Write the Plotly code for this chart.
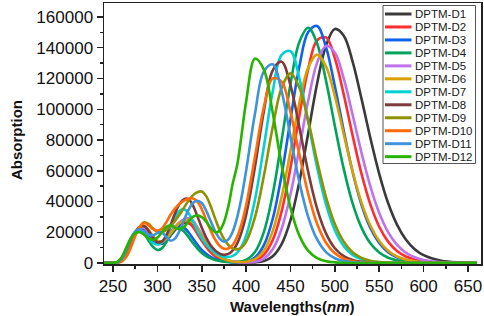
import plotly.graph_objects as go

# Wavelength grid (nm)
wavelengths = list(range(240, 401, 5)) + list(range(410, 601, 10)) + [620, 640, 660]

series_names = ["DPTM-D1", "DPTM-D2", "DPTM-D3", "DPTM-D4", "DPTM-D5", "DPTM-D6",
                "DPTM-D7", "DPTM-D8", "DPTM-D9", "DPTM-D10", "DPTM-D11", "DPTM-D12"]

colors = ["#3a3a3a", "#ff2d2d", "#0f62ee", "#00a35c", "#bf72ec", "#d9a000",
          "#00d2d2", "#7e3b3b", "#8e9200", "#ff6a0a", "#3f93dc", "#27b300"]

d1 = [0, 0,
      0, 300, 2000, 6500, 13000, 19000, 22500, 23000, 20000, 16000,
      13000, 12500, 14500, 18000, 21500, 24500, 26000, 26000, 24000, 20000,
      15500, 11500, 8000, 5500, 3600, 2300, 1400, 900, 600, 400,
      300,
      400, 1300, 4400, 12300, 27900, 52900, 84600, 116800, 141300, 152200,
      147800, 131000, 106900, 81300, 58000, 39000, 25000, 15300, 9000, 5100,
      1500, 400, 100]
d2 = [0, 0,
      0, 400, 2500, 7500, 14000, 20000, 23500, 23000, 19500, 15500,
      13000, 13000, 15500, 19500, 23000, 26000, 27000, 26500, 23500, 19000,
      14500, 10500, 7000, 4500, 2800, 1700, 1000, 600, 350, 250,
      380,
      1500, 5300, 14900, 33600, 62100, 96000, 126400, 144900, 146700, 133100,
      109600, 82900, 58100, 38100, 23600, 13900, 7800, 4200, 2200, 1100,
      260, 100, 0]
d3 = [0, 0,
      0, 500, 3000, 8500, 15000, 20000, 22000, 21000, 18000, 14500,
      12500, 13000, 16000, 20000, 23500, 24500, 23000, 20000, 16000, 12000,
      8500, 6000, 4000, 2600, 1600, 1000, 600, 400, 340, 460,
      900,
      3600, 11600, 28800, 57300, 93400, 127900, 150200, 154100, 140400, 115000,
      86000, 59200, 37900, 22800, 13000, 7000, 3700, 1800, 900, 400,
      100, 0, 0]
d4 = [0, 0,
      0, 700, 3500, 9500, 16000, 20000, 21000, 19000, 14500, 10500,
      8500, 9500, 13500, 18500, 22000, 22500, 20500, 17000, 13000, 9500,
      6500, 4500, 3000, 2000, 1300, 900, 650, 530, 670, 1070,
      2000,
      7200, 20300, 44900, 79700, 116500, 143800, 153000, 142700, 118600, 89100,
      61200, 38800, 23000, 12800, 6800, 3400, 1700, 800, 350, 150,
      0, 0, 0]
d5 = [0, 0,
      0, 300, 2000, 6500, 13000, 19000, 22500, 23000, 20000, 16000,
      13500, 13500, 16000, 19500, 23500, 26500, 28500, 29000, 27500, 23500,
      18500, 13500, 9500, 6500, 4200, 2700, 1700, 1000, 600, 350,
      330,
      800, 2900, 9000, 22300, 44700, 74600, 105800, 130300, 141200, 136800,
      120000, 96400, 71700, 49800, 32500, 20100, 11900, 6700, 3700, 1950,
      500, 120, 0]
d6 = [0, 0,
      0, 200, 1500, 5500, 12000, 18500, 23000, 24000, 21500, 17500,
      14500, 14000, 16000, 19500, 23000, 26000, 27500, 28000, 26500, 22500,
      17500, 13000, 9000, 6000, 4000, 2500, 1600, 1000, 680, 620,
      770,
      2500, 7900, 20900, 43000, 73000, 104200, 127200, 135500, 127900, 108500,
      83800, 59500, 39300, 24400, 14300, 7900, 4200, 2200, 1100, 520,
      100, 0, 0]
d7 = [0, 0,
      0, 500, 3000, 8500, 15000, 19500, 21000, 19500, 16000, 13000,
      12000, 13500, 17500, 23500, 29500, 34000, 35000, 32500, 27000, 21000,
      16000, 12000, 9000, 6500, 5000, 4000, 3900, 4650, 6800, 11000,
      17800,
      41300, 75800, 111700, 135400, 137700, 120100, 91700, 62100, 38100, 21300,
      11000, 5300, 2400, 1060, 440, 170, 60, 0, 0, 0,
      0, 0, 0]
d8 = [0, 0,
      0, 300, 2000, 6500, 13000, 19500, 23500, 24000, 21000, 16500,
      13500, 14000, 18000, 25000, 32500, 38500, 41500, 41500, 37500, 30500,
      23000, 16500, 11500, 8200, 6100, 5300, 5900, 8200, 12800, 20400,
      31300,
      62800, 98900, 125300, 130900, 115500, 88100, 59100, 35400, 19300, 9600,
      4500, 1950, 800, 310, 100, 0, 0, 0, 0, 0,
      0, 0, 0]
d9 = [0, 0,
      0, 200, 1500, 5000, 11000, 18000, 23500, 26500, 25500, 22500,
      20500, 20000, 21500, 24000, 27500, 31500, 36000, 40500, 44000, 46000,
      46500, 43500, 37000, 29000, 21500, 15700, 11600, 9350, 8900, 10200,
      13900,
      29800, 56700, 88500, 114000, 123300, 114100, 92400, 66300, 42900, 25300,
      13800, 7000, 3300, 1500, 670, 280, 100, 0, 0, 0,
      0, 0, 0]
d10 = [0, 0,
       0, 100, 1000, 4000, 10000, 17500, 23500, 26000, 24500, 22000,
       21000, 22500, 26500, 31500, 35500, 38500, 40500, 41800, 42000, 40000,
       35000, 28000, 21100, 15300, 11250, 9300, 9400, 11900, 17300, 25800,
       37600,
       69200, 101500, 120100, 117900, 98000, 70600, 44800, 25500, 13200, 6300,
       2800, 1160, 460, 170, 0, 0, 0, 0, 0, 0,
       0, 0, 0]
d11 = [0, 0,
       0, 500, 3000, 8500, 15500, 20500, 22000, 20500, 18500, 18000,
       19500, 20000, 17000, 14500, 16000, 21000, 28000, 34500, 39000, 40500,
       39000, 34000, 27300, 20800, 16000, 13900, 15400, 20600, 30000, 43300,
       60100,
       97300, 124600, 129200, 111600, 82200, 52600, 29900, 15300, 7100, 3100,
       1250, 470, 170, 0, 0, 0, 0, 0, 0, 0,
       0, 0, 0]
d12 = [0, 0,
       0, 800, 4000, 10000, 16000, 19500, 20000, 18500, 16000, 15000,
       16500, 20000, 23500, 24500, 23000, 22000, 23500, 27000, 30000, 31100,
       29800, 26950, 22900, 20000, 21000, 26500, 37000, 52000, 64000, 84000,
       105000,
       133000, 125800, 97600, 63800, 35900, 17800, 7900, 3200, 1200, 410,
       140, 0, 0, 0, 0, 0, 0, 0, 0, 0,
       0, 0, 0]

series_values = [d1, d2, d3, d4, d5, d6, d7, d8, d9, d10, d11, d12]

FONT = "Liberation Sans, Arial, sans-serif"

fig = go.Figure()
for name, col, vals in zip(series_names, colors, series_values):
    fig.add_trace(go.Scatter(
        x=wavelengths, y=vals, mode="lines", name=name,
        line=dict(color=col, width=2.6, shape="spline", smoothing=1.0),
        showlegend=False, hoverinfo="skip",
    ))

# Plot area in pixels: x 104..481, y 3..264
L, R, T, B = 104, 481, 3, 264
PW, PH = R - L, B - T

def px(xp):
    return (xp - L) / PW

def py(yp):
    return (B - yp) / PH

shapes = [dict(type="rect", xref="paper", yref="paper",
               x0=px(383), x1=px(475.5), y0=py(163.5), y1=py(5.5),
               line=dict(color="#555555", width=1), fillcolor="white", layer="above")]
annotations = []
for i, (name, col) in enumerate(zip(series_names, colors)):
    yc = 14 + 12.97 * i
    shapes.append(dict(type="line", xref="paper", yref="paper",
                       x0=px(385), x1=px(411.5), y0=py(yc), y1=py(yc),
                       line=dict(color=col, width=3), layer="above"))
    annotations.append(dict(xref="paper", yref="paper", x=px(413), y=py(yc),
                            text=name, showarrow=False, xanchor="left", yanchor="middle",
                            font=dict(family=FONT, size=11.5, color="#1a1a1a")))

# Axis titles as text placed like the reference
annotations.append(dict(xref="paper", yref="paper", x=px(292), y=py(306),
                        text="<b>Wavelengths(<i>nm</i>)</b>", showarrow=False,
                        xanchor="center", yanchor="middle",
                        font=dict(family=FONT, size=15, color="#111111")))
annotations.append(dict(xref="paper", yref="paper", x=px(16), y=py(140),
                        text="<b>Absorption</b>", showarrow=False, textangle=-90,
                        xanchor="center", yanchor="middle",
                        font=dict(family=FONT, size=15, color="#111111")))

axis_common = dict(showline=True, linewidth=1.5, linecolor="#222222", mirror=True,
                   ticks="outside", ticklen=6, tickwidth=1.5, tickcolor="#222222",
                   showgrid=False, zeroline=False, automargin=False,
                   tickfont=dict(family=FONT, size=17, color="#111111"))

fig.update_layout(
    width=484, height=316,
    margin=dict(l=L, r=484 - R, t=T, b=316 - B),
    paper_bgcolor="white", plot_bgcolor="white",
    font=dict(family=FONT, color="#111111"),
    shapes=shapes, annotations=annotations,
    hovermode=False,
    xaxis=dict(range=[239.8, 664.7], tick0=250, dtick=50,
               minor=dict(ticks="outside", ticklen=3, dtick=25, tick0=250, tickcolor="#222222"),
               **axis_common),
    yaxis=dict(range=[-650, 169100], tick0=0, dtick=20000, tickformat="d",
               minor=dict(ticks="outside", ticklen=3, dtick=10000, tick0=0, tickcolor="#222222"),
               **axis_common),
)

fig.write_html("out.html",
               config={"displayModeBar": False, "staticPlot": True},
               post_script="document.body.style.margin='0px';document.body.style.overflow='hidden';")
